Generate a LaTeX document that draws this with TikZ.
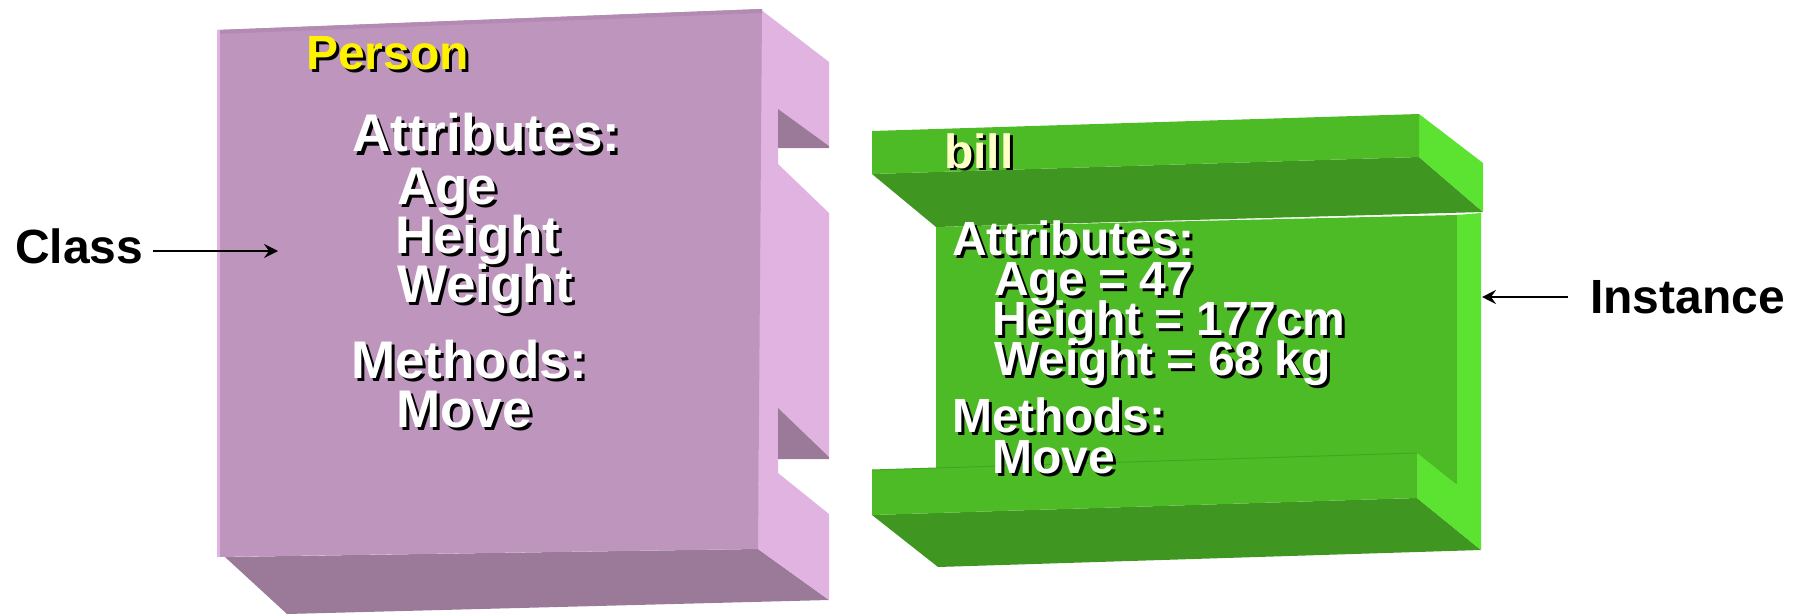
\documentclass[tikz,border=0pt]{standalone}
\usepackage{fontspec}
\setmainfont{Liberation Sans}
\usetikzlibrary{arrows.meta}

\definecolor{purfront}{RGB}{189,149,189}
\definecolor{purtop}{RGB}{178,138,178}
\definecolor{purside}{RGB}{225,179,225}
\definecolor{purbottom}{RGB}{154,122,152}
\definecolor{grnfront}{RGB}{76,187,38}
\definecolor{grnside}{RGB}{92,226,48}
\definecolor{grndark}{RGB}{63,150,32}
\definecolor{billyellow}{RGB}{255,255,200}

\newcommand{\stext}[5]{%
  \node[txt,font=\bfseries\fontsize{#3}{#3}\selectfont,text=black,xshift=3pt,yshift=-3pt] (#1-s) at (#2) {#5};
  \node[txt,font=\bfseries\fontsize{#3}{#3}\selectfont,text=#4] (#1) at (#2) {#5};}

\begin{document}
\begin{tikzpicture}[x=1pt,y=-1pt,
    txt/.style={anchor=base west,inner sep=0pt},
    arr/.style={-{Stealth[length=14pt,width=14pt,inset=5pt]},line width=1.6pt}]
  \useasboundingbox (0,0) rectangle (1801,615);

  \fill[purbottom] (225,557) -- (758,549) -- (829,600) -- (287,614) -- cycle;
  \fill[purside] (760,9) -- (829,62) -- (829,146) -- (778,109) -- (778,164) -- (829,213)
    -- (829,457) -- (778,408) -- (778,473) -- (829,514) -- (829,600) -- (758,549) -- cycle;
  \fill[purbottom] (778,109) -- (829,146) -- (829,148) -- (778,148) -- cycle;
  \fill[purbottom] (778,408) -- (829,457) -- (829,459) -- (778,459) -- cycle;
  \fill[purfront] (217,30) -- (762,9) -- (758,549) -- (217,557) -- cycle;
  \fill[purtop] (217,30) -- (762,9) -- (762,13) -- (217,34) -- cycle;
  \fill[purside] (217,30) -- (220,30) -- (220,557) -- (217,557) -- cycle;

  \fill[grndark] (872,515) -- (1417,498) -- (1481,550) -- (938,567) -- cycle;
  \fill[grnfront] (936,227) -- (1457,215) -- (1457,485) -- (1417,455) -- (1417,498)
    -- (872,515) -- (872,470) -- (936,468) -- cycle;
  \draw[grndark!60!grnfront,line width=1pt] (872,470) -- (1417,453);
  \fill[grnside] (1457,215) -- (1481,213) -- (1481,550) -- (1417,498) -- (1417,453)
    -- (1457,485) -- cycle;
  \fill[grndark] (872,174) -- (1419,157) -- (1483,212) -- (936,227) -- cycle;
  \fill[grnside] (1419,114) -- (1483,163) -- (1483,212) -- (1419,157) -- cycle;
  \fill[grnfront] (872,131) -- (1419,114) -- (1419,157) -- (872,174) -- cycle;

  \stext{person}{306,70}{48}{yellow}{Person}
  \stext{pattr}{352,152}{53}{white}{Attributes:}
  \stext{page}{397,204}{53}{white}{Age}
  \stext{pheight}{395,253}{53}{white}{Height}
  \stext{pweight}{397,302}{53}{white}{Weight}
  \stext{pmeth}{351,378}{53}{white}{Methods:}
  \stext{pmove}{396,427}{53}{white}{Move}

  \stext{bill}{944,168}{48}{billyellow}{bill}
  \stext{battr}{952,255}{48}{white}{Attributes:}
  \stext{bage}{994,295}{48}{white}{Age = 47}
  \stext{bheight}{992,335}{48}{white}{Height = 177cm}
  \stext{bweight}{994,375}{48}{white}{Weight = 68 kg}
  \stext{bmeth}{952,432}{48}{white}{Methods:}
  \stext{bmove}{992,473}{48}{white}{Move}

  \node[txt,font=\bfseries\fontsize{48}{48}\selectfont] (class) at (15,263) {Class};
  \node[txt,font=\bfseries\fontsize{48}{48}\selectfont] (inst) at (1590,313) {Instance};
  \coordinate (classtip) at (278,251);
  \coordinate (insttip) at (1482,297);
  \draw[arr] ([xshift=10pt]class.east |- classtip) -- (classtip);
  \draw[arr] ([xshift=-22pt]inst.west |- insttip) -- (insttip);
\end{tikzpicture}
\end{document}
